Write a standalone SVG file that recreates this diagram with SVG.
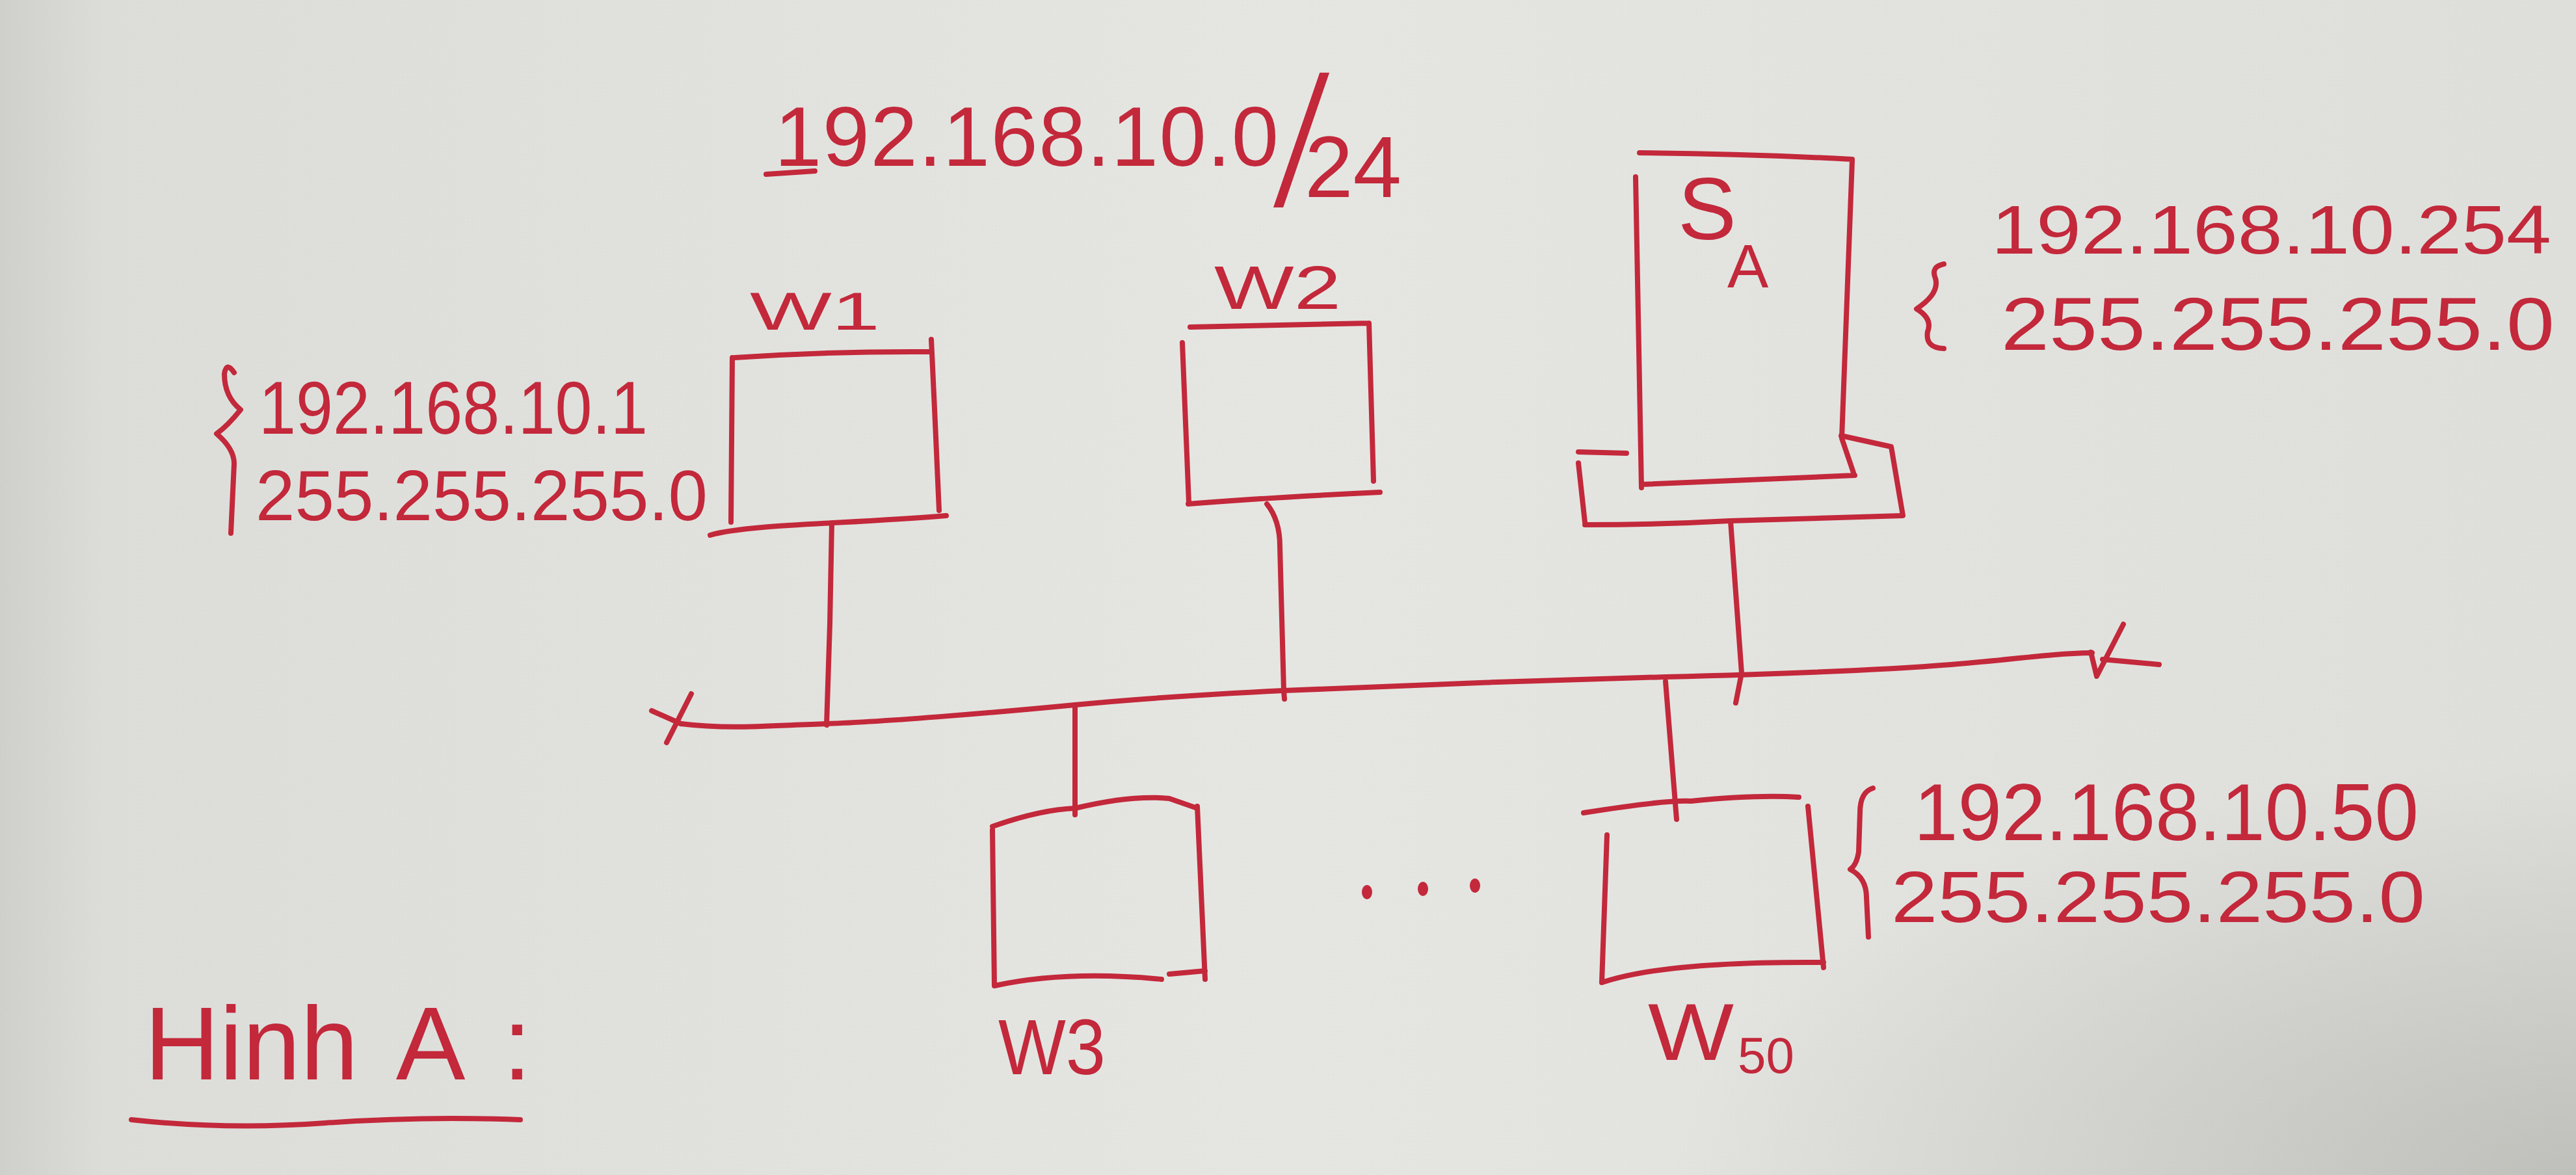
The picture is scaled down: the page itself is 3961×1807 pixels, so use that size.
<svg xmlns="http://www.w3.org/2000/svg" width="3961" height="1807" viewBox="0 0 3961 1807">
  <defs>
    <linearGradient id="paper" x1="0" y1="0" x2="1" y2="0">
      <stop offset="0" stop-color="#cfd0cc"/>
      <stop offset="0.04" stop-color="#dcddd9"/>
      <stop offset="0.5" stop-color="#e5e6e2"/>
      <stop offset="1" stop-color="#dedfdb"/>
    </linearGradient>
    <radialGradient id="shade" cx="1" cy="1" r="0.35">
      <stop offset="0" stop-color="#b8b8b3" stop-opacity="0.8"/>
      <stop offset="1" stop-color="#b8b8b3" stop-opacity="0"/>
    </radialGradient>
  </defs>
  <style>
    .ink { fill: none; stroke: #c3283b; stroke-width: 8; stroke-linecap: round; stroke-linejoin: round; }
    .t { fill: #c3283b; font-family: "Liberation Sans", Arial, sans-serif; }
    .slash { font-family: "Liberation Serif", "Times New Roman", serif; }
  </style>

  <rect x="0" y="0" width="3961" height="1807" fill="url(#paper)"/>
  <rect x="0" y="0" width="3961" height="1807" fill="url(#shade)"/>

  <g id="title">
    <text class="t" x="1191" y="255" font-size="130"><tspan textLength="775" lengthAdjust="spacing">192.168.10.0</tspan><tspan class="slash" x="1958" y="316" font-size="310">/</tspan><tspan x="2006" y="303" font-size="134">24</tspan></text>
    <path class="ink" d="M1178,268 L1253,263"/>
  </g>

  <g id="connectors">
    <path id="bus" class="ink" d="M1047,1113 C1120,1122 1180,1116 1271,1113 S1550,1094 1653,1084 S1850,1068 1974,1062 S2400,1045 2562,1041 S2900,1030 3000,1022 S3150,1005 3217,1004"/>
    <path id="bus-left-end" class="ink" d="M1002,1093 L1047,1113 M1063,1067 L1025,1142"/>
    <path id="bus-right-end" class="ink" d="M3215,1003 L3224,1040 L3265,960 M3233,1014 L3320,1022"/>
    <path id="link-w1" class="ink" d="M1279,805 L1276,960 L1271,1115"/>
    <path id="link-w2" class="ink" d="M1948,775 Q1968,800 1968,840 L1974,1062 L1975,1075"/>
    <path id="link-w3" class="ink" d="M1653,1084 L1653,1253"/>
    <path id="link-w50" class="ink" d="M2561,1048 L2578,1260"/>
    <path id="link-sa" class="ink" d="M2661,801 L2678,1035 L2669,1081"/>
  </g>

  <g id="node-w1">
    <path class="ink" d="M1130,550 Q1280,540 1428,541 M1432,522 L1438,650 L1444,785 M1126,550 L1124,803 M1092,823 C1150,806 1300,806 1455,793"/>
    <text class="t" x="1153" y="507" font-size="82" textLength="200" lengthAdjust="spacingAndGlyphs">W1</text>
    <path class="ink" d="M360,573 Q348,555 345,575 Q345,610 370,630 Q350,655 333,667 Q360,690 360,713 L355,820"/>
    <text class="t" x="398" y="667" font-size="115" textLength="598" lengthAdjust="spacingAndGlyphs">192.168.10.1</text>
    <text class="t" x="393" y="800" font-size="110" textLength="695" lengthAdjust="spacingAndGlyphs">255.255.255.0</text>
  </g>

  <g id="node-w2">
    <path class="ink" d="M1830,503 L2105,497 M1818,527 L1828,773 M2105,497 L2112,740 M1827,775 Q1950,765 2122,757"/>
    <text class="t" x="1867" y="475" font-size="95" textLength="195" lengthAdjust="spacingAndGlyphs">W2</text>
  </g>

  <g id="node-sa">
    <path class="ink" d="M2521,235 Q2680,236 2848,245 M2515,272 L2524,750 M2848,247 L2832,674 L2850,727 M2524,745 L2852,731"/>
    <path class="ink" d="M2427,695 L2501,697 M2427,712 L2437,803 M2437,807 Q2550,807 2660,801 L2926,793 L2908,687 L2831,670"/>
    <text class="t" x="2580" y="368" font-size="135">S<tspan x="2656" y="442" font-size="95">A</tspan></text>
    <path class="ink" d="M2989,406 Q2970,410 2975,425 Q2985,450 2947,475 Q2972,490 2964,510 Q2960,535 2989,536"/>
    <text class="t" x="3062" y="390" font-size="105" textLength="861" lengthAdjust="spacingAndGlyphs">192.168.10.254</text>
    <text class="t" x="3077" y="538" font-size="115" textLength="851" lengthAdjust="spacingAndGlyphs">255.255.255.0</text>
  </g>

  <g id="node-w3">
    <path class="ink" d="M1526,1271 Q1600,1245 1653,1243 Q1740,1222 1798,1228 L1841,1243 M1526,1276 L1529,1516 M1841,1240 L1853,1506 M1529,1516 Q1640,1492 1786,1506 M1798,1498 L1853,1493"/>
    <text class="t" x="1535" y="1652" font-size="120" textLength="165" lengthAdjust="spacingAndGlyphs">W3</text>
  </g>

  <g id="node-w50">
    <path class="ink" d="M2435,1250 Q2560,1230 2600,1232 Q2700,1222 2766,1226 M2471,1284 L2463,1511 M2780,1240 L2804,1488 M2463,1511 Q2560,1478 2804,1480"/>
    <text class="t" x="2534" y="1630" font-size="125"><tspan textLength="132" lengthAdjust="spacingAndGlyphs">W</tspan><tspan x="2672" y="1650" font-size="78">50</tspan></text>
    <path class="ink" d="M2880,1212 Q2860,1218 2860,1250 L2858,1310 Q2855,1330 2845,1337 Q2870,1350 2870,1380 L2873,1441"/>
    <text class="t" x="2943" y="1292" font-size="125" textLength="776" lengthAdjust="spacingAndGlyphs">192.168.10.50</text>
    <text class="t" x="2908" y="1418" font-size="112" textLength="821" lengthAdjust="spacingAndGlyphs">255.255.255.0</text>
  </g>

  <g id="ellipsis" fill="#c3283b">
    <ellipse cx="2102" cy="1372" rx="8" ry="11"/>
    <ellipse cx="2188" cy="1367" rx="8" ry="11"/>
    <ellipse cx="2268" cy="1362" rx="8" ry="11"/>
  </g>

  <g id="caption">
    <text class="t" x="222" y="1660" font-size="160" word-spacing="22">Hinh A :</text>
    <path class="ink" d="M202,1722 Q350,1738 500,1727 Q650,1716 800,1722"/>
  </g>
</svg>
